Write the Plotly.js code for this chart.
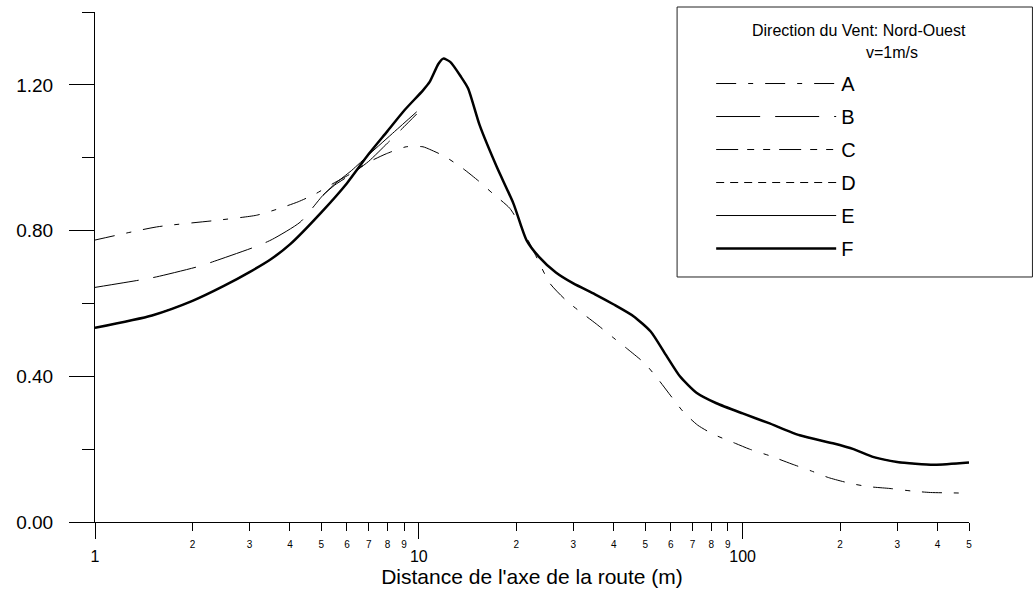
<!DOCTYPE html>
<html><head><meta charset="utf-8">
<script src="https://cdn.plot.ly/plotly-3.0.1.min.js"></script>
<style>html,body{margin:0;padding:0;background:#fff}#chart{width:1035px;height:591px}</style>
</head><body><div id="chart"></div>
<script>
// ---- data ----
const seriesNames = ['A', 'B', 'C', 'D', 'E', 'F'];

const A_x = [1, 1.55, 2.37, 3.15, 3.63, 4.24, 4.8, 5.43, 6.19, 6.9, 7.94, 9.14, 10.3, 10.8, 12, 13.7, 15.3, 16.9, 19.1, 21, 22.8, 25.4, 28.6, 31, 35.4, 39.6, 43.8, 49.9, 54.6, 59.2, 65.5, 72.6, 81.1, 94.9, 105, 122, 142, 163, 184, 215, 245, 285, 333, 380, 438, 500];
const A_y = [0.774, 0.810, 0.828, 0.842, 0.858, 0.879, 0.901, 0.929, 0.957, 0.985, 1.011, 1.030, 1.030, 1.023, 1.004, 0.970, 0.936, 0.902, 0.861, 0.800, 0.737, 0.655, 0.607, 0.582, 0.543, 0.508, 0.477, 0.435, 0.394, 0.353, 0.303, 0.266, 0.241, 0.216, 0.200, 0.181, 0.159, 0.140, 0.122, 0.106, 0.097, 0.092, 0.085, 0.081, 0.080, 0.079];

const B_x = [1, 1.37, 1.55, 2.1, 2.34, 3.18, 3.53, 4.3, 5.06, 5.5, 6.2, 7.0, 8.0, 9.0, 9.85];
const B_y = [0.644, 0.664, 0.673, 0.702, 0.716, 0.758, 0.776, 0.823, 0.897, 0.925, 0.955, 0.990, 1.040, 1.085, 1.120];

// C and D are not visible separately in the reference: they run under the thick F curve
const C_x = [1, 1.5, 2, 2.5, 3, 3.5, 4, 5, 6, 7, 8, 9, 10.3, 10.8, 11.5, 11.9, 12.5, 13.5, 14.2, 15.4, 17.4, 19.6, 21.5, 23.5, 26.5, 30, 35, 40, 46, 52, 58, 64, 72, 83, 100, 120, 150, 190, 220, 254, 300, 390, 500];
const C_y = [0.533, 0.567, 0.607, 0.648, 0.686, 0.722, 0.762, 0.850, 0.930, 1.010, 1.073, 1.129, 1.185, 1.208, 1.258, 1.272, 1.263, 1.222, 1.190, 1.090, 0.975, 0.874, 0.774, 0.728, 0.685, 0.655, 0.625, 0.597, 0.565, 0.523, 0.458, 0.400, 0.355, 0.326, 0.298, 0.272, 0.238, 0.216, 0.200, 0.178, 0.165, 0.157, 0.163];

const D_x = [1, 1.5, 2, 2.5, 3, 3.5, 4, 5, 6, 7, 8, 9, 10.3, 10.8, 11.5, 11.9, 12.5, 13.5, 14.2, 15.4, 17.4, 19.6, 21.5, 23.5, 26.5, 30, 35, 40, 46, 52, 58, 64, 72, 83, 100, 120, 150, 190, 220, 254, 300, 390, 500];
const D_y = [0.533, 0.567, 0.607, 0.648, 0.686, 0.722, 0.762, 0.850, 0.930, 1.010, 1.073, 1.129, 1.185, 1.208, 1.258, 1.272, 1.263, 1.222, 1.190, 1.090, 0.975, 0.874, 0.774, 0.728, 0.685, 0.655, 0.625, 0.597, 0.565, 0.523, 0.458, 0.400, 0.355, 0.326, 0.298, 0.272, 0.238, 0.216, 0.200, 0.178, 0.165, 0.157, 0.163];

const E_x = [5.06, 5.5, 6.2, 7.06, 8.42, 9.85];
const E_y = [0.897, 0.928, 0.965, 1.011, 1.072, 1.126];

const F_x = [1, 1.5, 2, 2.5, 3, 3.5, 4, 5, 6, 7, 8, 9, 10.3, 10.8, 11.5, 11.9, 12.5, 13.5, 14.2, 15.4, 17.4, 19.6, 21.5, 23.5, 26.5, 30, 35, 40, 46, 52, 58, 64, 72, 83, 100, 120, 150, 190, 220, 254, 300, 390, 500];
const F_y = [0.533, 0.567, 0.607, 0.648, 0.686, 0.722, 0.762, 0.850, 0.930, 1.010, 1.073, 1.129, 1.185, 1.208, 1.258, 1.272, 1.263, 1.222, 1.190, 1.090, 0.975, 0.874, 0.774, 0.728, 0.685, 0.655, 0.625, 0.597, 0.565, 0.523, 0.458, 0.400, 0.355, 0.326, 0.298, 0.272, 0.238, 0.216, 0.200, 0.178, 0.165, 0.157, 0.163];

const xMajorTicks = [1, 10, 100];
const xMajorText = ['1', '10', '100'];
const xMinorTicks = [2, 3, 4, 5, 6, 7, 8, 9, 20, 30, 40, 50, 60, 70, 80, 90, 200, 300, 400, 500];
const xMinorText = ['2', '3', '4', '5', '6', '7', '8', '9', '2', '3', '4', '5', '6', '7', '8', '9', '2', '3', '4', '5'];
const yTicks = [0, 0.4, 0.8, 1.2];
const yTickText = ['0.00', '0.40', '0.80', '1.20'];
const yMinorTicks = [0.2, 0.6, 1.0, 1.4];

const xTitle = "Distance de l'axe de la route (m)";
const legendTitle = 'Direction du Vent: Nord-Ouest';
const legendSub = 'v=1m/s';

// ---- styling ----
const FONT = 'Liberation Sans, Arial, Helvetica, sans-serif';
const styles = {
  A: {dash: '20px,12px,5px,12px', width: 1, axis: 'x'},
  B: {dash: '44px,15px', width: 1, axis: 'x'},
  C: {dash: '22px,9px,7px,9px,7px,9px', width: 1, axis: 'x'},
  D: {dash: '8px,6px', width: 1, axis: 'x2'},
  E: {dash: 'solid', width: 1, axis: 'x'},
  F: {dash: 'solid', width: 2.5, axis: 'x'}
};
const data = {A: [A_x, A_y], B: [B_x, B_y], C: [C_x, C_y], D: [D_x, D_y], E: [E_x, E_y], F: [F_x, F_y]};

const traces = seriesNames.map(n => ({
  type: 'scatter', mode: 'lines', name: n,
  x: data[n][0], y: data[n][1],
  xaxis: styles[n].axis, yaxis: 'y',
  legendgroup: n,
  line: {color: '#000', width: styles[n].width, dash: styles[n].dash, shape: 'spline', smoothing: 0.6},
  hoverinfo: 'x+y+name'
}));

const xr = [0, Math.log10(500)];
const layout = {
  width: 1035, height: 591,
  margin: {l: 95, r: 66, t: 12, b: 69},
  paper_bgcolor: '#fff', plot_bgcolor: '#fff',
  font: {family: FONT, color: '#000'},
  showlegend: true,
  xaxis: {
    type: 'log', range: xr, autorange: false, tickmode: 'array', tickvals: xMajorTicks, ticktext: xMajorText,
    ticks: 'outside', ticklen: 16, tickwidth: 1, tickcolor: '#000',
    showline: true, linecolor: '#000', linewidth: 1, showgrid: false, zeroline: false,
    tickfont: {size: 16}, ticklabelstandoff: 4,
    title: {text: xTitle, font: {size: 21}, standoff: 4}
  },
  xaxis2: {
    type: 'log', range: xr, autorange: false, overlaying: 'x', anchor: 'y', side: 'bottom',
    tickmode: 'array', tickvals: xMinorTicks, ticktext: xMinorText,
    ticks: 'outside', ticklen: 8, tickwidth: 1, tickcolor: '#000',
    showline: false, showgrid: false, zeroline: false, tickfont: {size: 10}, ticklabelstandoff: 5
  },
  yaxis: {
    range: [0, 1.4], autorange: false, tickmode: 'array', tickvals: yTicks, ticktext: yTickText,
    ticks: 'outside', ticklen: 25, tickwidth: 1, tickcolor: '#000',
    showline: true, linecolor: '#000', linewidth: 1, showgrid: false, zeroline: false,
    tickfont: {size: 19}, ticklabelstandoff: 12,
    minor: {tickmode: 'array', tickvals: yMinorTicks, ticks: 'outside', ticklen: 12, tickcolor: '#000', tickwidth: 1, showgrid: false}
  },
  legend: {
    x: 0.705, xanchor: 'left', y: 0.898, yanchor: 'top',
    bgcolor: 'rgba(0,0,0,0)', borderwidth: 0,
    font: {size: 20, family: FONT}, itemwidth: 120, tracegroupgap: 4,
    traceorder: 'grouped'
  },
  shapes: [{type: 'rect', xref: 'paper', yref: 'paper', x0: 0.666, x1: 1.0726, y0: 0.4804, y1: 1.0098,
            line: {color: '#222', width: 1}, fillcolor: 'rgba(0,0,0,0)'}],
  annotations: [
    {xref: 'paper', yref: 'paper', x: 0.8745, y: 0.963, text: legendTitle, showarrow: false,
     font: {size: 16, family: FONT}, xanchor: 'center', yanchor: 'middle'},
    {xref: 'paper', yref: 'paper', x: 0.912, y: 0.921, text: legendSub, showarrow: false,
     font: {size: 16, family: FONT}, xanchor: 'center', yanchor: 'middle'}
  ]
};

Plotly.newPlot('chart', traces, layout, {displayModeBar: false, responsive: false});
</script>
</body></html>
